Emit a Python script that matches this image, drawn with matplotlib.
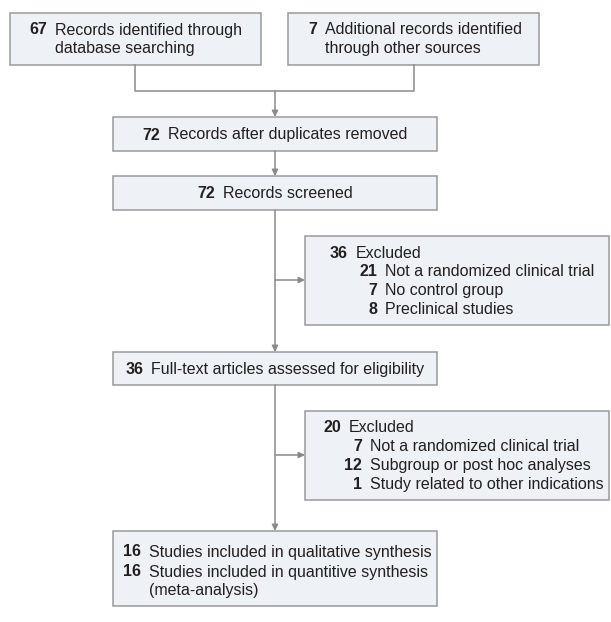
import matplotlib
matplotlib.use('Agg')
import matplotlib.pyplot as plt
from matplotlib.patches import Rectangle

W, H = 611, 622

# ---- data ----
top_nums = ['67', '7']
top_texts = [['Records identified through', 'database searching'],
             ['Additional records identified', 'through other sources']]

center_nums = ['72', '72', '36']
center_texts = ['Records after duplicates removed', 'Records screened',
                'Full-text articles assessed for eligibility']

excl1_nums = ['36', '21', '7', '8']
excl1_texts = ['Excluded', 'Not a randomized clinical trial', 'No control group',
               'Preclinical studies']
excl2_nums = ['20', '7', '12', '1']
excl2_texts = ['Excluded', 'Not a randomized clinical trial',
               'Subgroup or post hoc analyses', 'Study related to other indications']

final_nums = ['16', '16', '']
final_texts = ['Studies included in qualitative synthesis',
               'Studies included in quantitive synthesis', '(meta-analysis)']

# ---- style ----
FONT = ['Liberation Sans', 'DejaVu Sans']
FS = 11.5
GAP = 8
TXT = '#231f20'
FILL = '#eef1f5'
EDGE = '#9a9a9a'
LINE = '#8a8a8a'

fig = plt.figure(figsize=(W / 100, H / 100), dpi=100)
ax = fig.add_axes([0, 0, 1, 1])
ax.set_xlim(0, W)
ax.set_ylim(H, 0)
ax.axis('off')


def box(x0, y0, x1, y1):
    ax.add_patch(Rectangle((x0, y0), x1 - x0, y1 - y0, facecolor=FILL,
                           edgecolor=EDGE, lw=1.1))


def arrow(x0, y0, x1, y1):
    ax.annotate('', xy=(x1, y1), xytext=(x0, y0),
                arrowprops=dict(arrowstyle='-|>', color=LINE, lw=1.1,
                                mutation_scale=9, shrinkA=0, shrinkB=0))


def item(xr, y, num, text, gap=GAP):
    # bold count right-aligned at xr, label starts just after it
    if num:
        ax.text(xr, y, num, ha='right', va='center', fontsize=FS,
                fontweight='bold', color=TXT, family=FONT)
    ax.text(xr + gap, y, text, ha='left', va='center', fontsize=FS,
            color=TXT, family=FONT)


renderer = fig.canvas.get_renderer()


def centered_item(xc, y, num, text, gap=GAP):
    t1 = ax.text(0, y, num, ha='left', va='center', fontsize=FS,
                 fontweight='bold', color=TXT, family=FONT)
    t2 = ax.text(0, y, text, ha='left', va='center', fontsize=FS,
                 color=TXT, family=FONT)
    w1 = t1.get_window_extent(renderer).width
    w2 = t2.get_window_extent(renderer).width
    x0 = xc - (w1 + gap + w2) / 2
    t1.set_x(x0)
    t2.set_x(x0 + w1 + gap)


# top two boxes
box(10, 13, 261, 65)
box(288, 13, 539, 65)
for xr, num, lines in zip([47, 317], top_nums, top_texts):
    item(xr, 30, num, lines[0])
    item(xr, 49, '', lines[1])

# merge connector
ax.plot([135, 135, 414, 414], [65, 91, 91, 65], color=LINE, lw=1.1)
arrow(275, 91, 275, 117)

# main column
main_y = [(117, 151), (176, 210), (352, 385)]
for (y0, y1), num, text in zip(main_y, center_nums, center_texts):
    box(113, y0, 437, y1)
    centered_item(275, (y0 + y1) / 2 + 1, num, text)

arrow(275, 151, 275, 176)
arrow(275, 210, 275, 352)
arrow(275, 385, 275, 531)

# exclusion boxes
box(305, 236, 609, 325)
arrow(275, 280, 305, 280)
ex1_x = [348, 377, 377, 377]
for i, (num, text) in enumerate(zip(excl1_nums, excl1_texts)):
    item(ex1_x[i], 253 + i * 18.7, num, text)

box(305, 411, 609, 500)
arrow(275, 455, 305, 455)
ex2_x = [341, 362, 362, 362]
for i, (num, text) in enumerate(zip(excl2_nums, excl2_texts)):
    item(ex2_x[i], 428 + i * 18.7, num, text)

# final box
box(113, 531, 437, 606)
for y, num, text in zip([552, 572, 590], final_nums, final_texts):
    item(141, y, num, text)

fig.savefig('out.png', dpi=100)
